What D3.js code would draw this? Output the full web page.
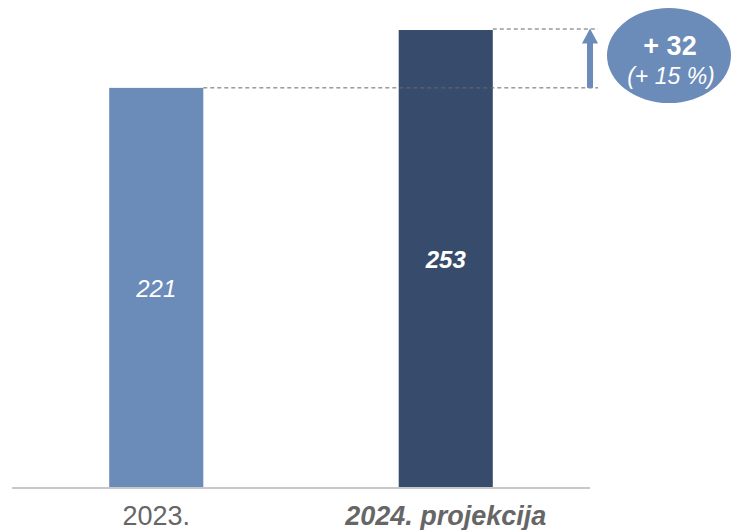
<!DOCTYPE html>
<html><head><meta charset="utf-8">
<script src="https://cdn.jsdelivr.net/npm/d3@7"></script>
<style>html,body{margin:0;padding:0;background:#fff;}svg{display:block;font-family:Arial,"Liberation Sans",sans-serif;}</style>
</head><body><svg id="c" width="731" height="530"></svg>
<script>
const categories = ["2023.", "2024. projekcija"];
const values = [221, 253];
const changeLabels = ["+ 32", "(+ 15 %)"];
const barColors = ["#6b8bb9", "#374c6c"];
const boldLabel = [false, true];

const svg = d3.select("#c");
const x = d3.scaleBand().domain(categories).range([11.5, 590.5]).paddingInner(0.675).paddingOuter(0.3375);
const y = d3.scaleLinear().domain([0, d3.max(values)]).range([487.5, 30]);

// bars
svg.selectAll("rect.bar").data(categories).join("rect")
  .attr("x", d => x(d)).attr("width", x.bandwidth())
  .attr("y", (d,i) => y(values[i])).attr("height", (d,i) => y(0) - y(values[i]))
  .attr("fill", (d,i) => barColors[i]);

// axis line
svg.append("line").attr("x1", 12).attr("x2", 590).attr("y1", y(0)+0.5).attr("y2", y(0)+0.5)
  .attr("stroke", "#c8c8c8").attr("stroke-width", 2);

// value labels
svg.selectAll("text.val").data(categories).join("text")
  .attr("x", d => x(d) + x.bandwidth()/2)
  .attr("y", (d,i) => (y(values[i]) + y(0))/2 + 9)
  .attr("text-anchor", "middle").attr("fill", "#fff")
  .attr("font-size", 24).attr("font-style", "italic")
  .attr("font-weight", (d,i) => boldLabel[i] ? "bold" : "normal")
  .text((d,i) => values[i]);

// category labels
svg.selectAll("text.cat").data(categories).join("text")
  .attr("x", d => x(d) + x.bandwidth()/2)
  .attr("y", 525)
  .attr("text-anchor", "middle").attr("fill", "#666")
  .attr("font-size", 27)
  .attr("font-style", (d,i) => boldLabel[i] ? "italic" : "normal")
  .attr("font-weight", (d,i) => boldLabel[i] ? "bold" : "normal")
  .text(d => d);

// dashed reference lines
const arrowX = 590;
svg.append("line").attr("x1", x(categories[0]) + x.bandwidth()).attr("x2", 598)
  .attr("y1", y(values[0])).attr("y2", y(values[0]))
  .attr("stroke", "#666").attr("stroke-width", 1).attr("stroke-dasharray", "4,3");
svg.append("line").attr("x1", x(categories[1]) + x.bandwidth()).attr("x2", 598)
  .attr("y1", y(values[1])-1).attr("y2", y(values[1])-1)
  .attr("stroke", "#666").attr("stroke-width", 1).attr("stroke-dasharray", "4,3");

// arrow
const yLo = y(values[0]), yHi = y(values[1]) - 1.5;
svg.append("rect").attr("x", arrowX-3).attr("width", 6).attr("y", yHi+12).attr("height", yLo - yHi - 12)
  .attr("fill", "#6b8bb9");
svg.append("path").attr("d", `M${arrowX},${yHi} L${arrowX+8},${yHi+15} L${arrowX-8},${yHi+15} Z`)
  .attr("fill", "#6b8bb9");

// ellipse callout
svg.append("ellipse").attr("cx", 669).attr("cy", 55.5).attr("rx", 62).attr("ry", 47.5).attr("fill", "#6b8bb9");
svg.append("text").attr("x", 670).attr("y", 55).attr("text-anchor", "middle").attr("fill", "#fff")
  .attr("font-size", 27).attr("font-weight", "bold").text(changeLabels[0]);
svg.append("text").attr("x", 671).attr("y", 84).attr("text-anchor", "middle").attr("fill", "#fff")
  .attr("font-size", 23).attr("font-style", "italic").text(changeLabels[1]);
</script></body></html>
